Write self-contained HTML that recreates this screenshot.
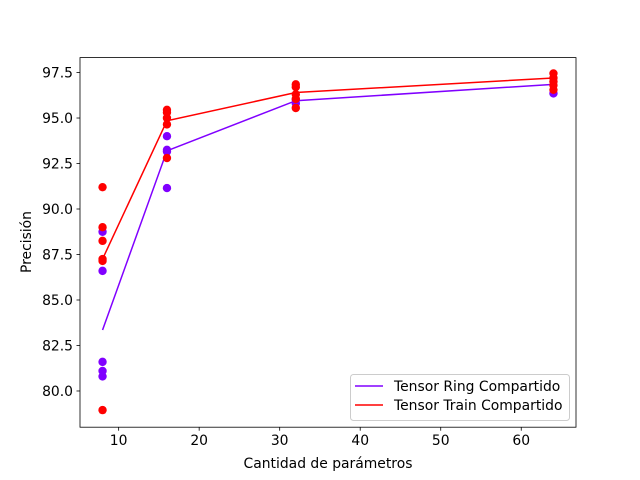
<!DOCTYPE html>
<html><head><meta charset="utf-8"><style>
body{margin:0;background:#fff;}
svg{display:block;font-family:"DejaVu Sans",sans-serif;}
</style></head><body>
<svg id="chart" width="640" height="480" style="position:absolute;left:0;top:0">
<rect width="640" height="480" fill="#fff"/>
<g id="marks"></g>
<g id="axes"></g>
</svg>
<script>
const xCats = [8, 16, 32, 64];
const ringPointsX = [8,8,8,8,8, 16,16,16,16, 32,32, 64];
const ringPointsY = [88.75,86.6,81.6,81.1,80.8, 94.0,93.25,93.15,91.15, 96.0,95.8, 96.35];
const trainPointsX = [8,8,8,8,8,8, 16,16,16,16,16, 32,32,32,32,32, 64,64,64,64,64];
const trainPointsY = [91.2,89.0,88.25,87.25,87.15,78.95, 95.45,95.3,95.0,94.65,92.8, 96.85,96.7,96.3,96.05,95.55, 97.45,97.2,97.0,96.8,96.55];
const ringMean = [83.35, 93.2, 95.95, 96.85];
const trainMean = [87.25, 94.85, 96.4, 97.2];
const xTicks = [10,20,30,40,50,60];
const yTicks = [80.0,82.5,85.0,87.5,90.0,92.5,95.0,97.5];

const L=80,R=576,T=57.6,B=427.2;
const xMin=5.2,xMax=66.8,yMin=78.01,yMax=98.32;
const sx=v=>L+(v-xMin)/(xMax-xMin)*(R-L);
const sy=v=>B-(v-yMin)/(yMax-yMin)*(B-T);
const NS="http://www.w3.org/2000/svg";
const marks=document.getElementById('marks'),axes=document.getElementById('axes');
function mk(tag,attrs,parent){const e=document.createElementNS(NS,tag);for(const k in attrs)e.setAttribute(k,attrs[k]);parent.appendChild(e);return e;}

function series(px,py,means,color,name){
  const g=mk('g',{},marks);
  
  
  for(let i=0;i<px.length;i++){
    const c=mk('circle',{cx:sx(px[i]),cy:sy(py[i]),r:4.2,fill:color},g);
    
    
  }
  const l=mk('polyline',{points:xCats.map((x,i)=>sx(x)+','+sy(means[i])).join(' '),fill:'none',stroke:color,'stroke-width':1.5},g);
  
  
}
series(ringPointsX,ringPointsY,ringMean,'#8000ff','tensor-ring');
series(trainPointsX,trainPointsY,trainMean,'#ff0000','tensor-train');

const frame=mk('rect',{x:L,y:T,width:R-L,height:B-T,fill:'none',stroke:'#000','stroke-width':0.8},axes);


xTicks.forEach(t=>{
  const x=sx(t);
  mk('line',{x1:x,y1:B,x2:x,y2:B+3.5,stroke:'#000','stroke-width':0.8},axes);
  const tx=mk('text',{x:x,y:B+18,'font-size':13.9,'text-anchor':'middle',fill:'#000'},axes);
  tx.textContent=t;
  
  
});
yTicks.forEach(t=>{
  const y=sy(t);
  mk('line',{x1:L,y1:y,x2:L-3.5,y2:y,stroke:'#000','stroke-width':0.8},axes);
  const tx=mk('text',{x:L-7,y:y+5,'font-size':13.9,'text-anchor':'end',fill:'#000'},axes);
  tx.textContent=t.toFixed(1);
  
  
});
</script>
<svg style="position:absolute;left:0;top:0" width="640" height="480">
<text x="328" y="468" font-size="13.9" text-anchor="middle" font-family="DejaVu Sans, sans-serif">Cantidad de parámetros</text>
<text x="31" y="242" font-size="13.9" text-anchor="middle" transform="rotate(-90 31 242)" font-family="DejaVu Sans, sans-serif">Precisión</text>
<g>
<rect x="350.5" y="374.5" width="219" height="46" rx="3" fill="#fff" fill-opacity="0.8" stroke="#ccc"/>
<line x1="355" y1="386" x2="383" y2="386" stroke="#8000ff" stroke-width="1.5"/>
<text x="394" y="391" font-size="13.9" font-family="DejaVu Sans, sans-serif">Tensor Ring Compartido</text>
<line x1="355" y1="405" x2="383" y2="405" stroke="#ff0000" stroke-width="1.5"/>
<text x="394" y="410" font-size="13.9" font-family="DejaVu Sans, sans-serif">Tensor Train Compartido</text>
</g>
</svg>
</body></html>
